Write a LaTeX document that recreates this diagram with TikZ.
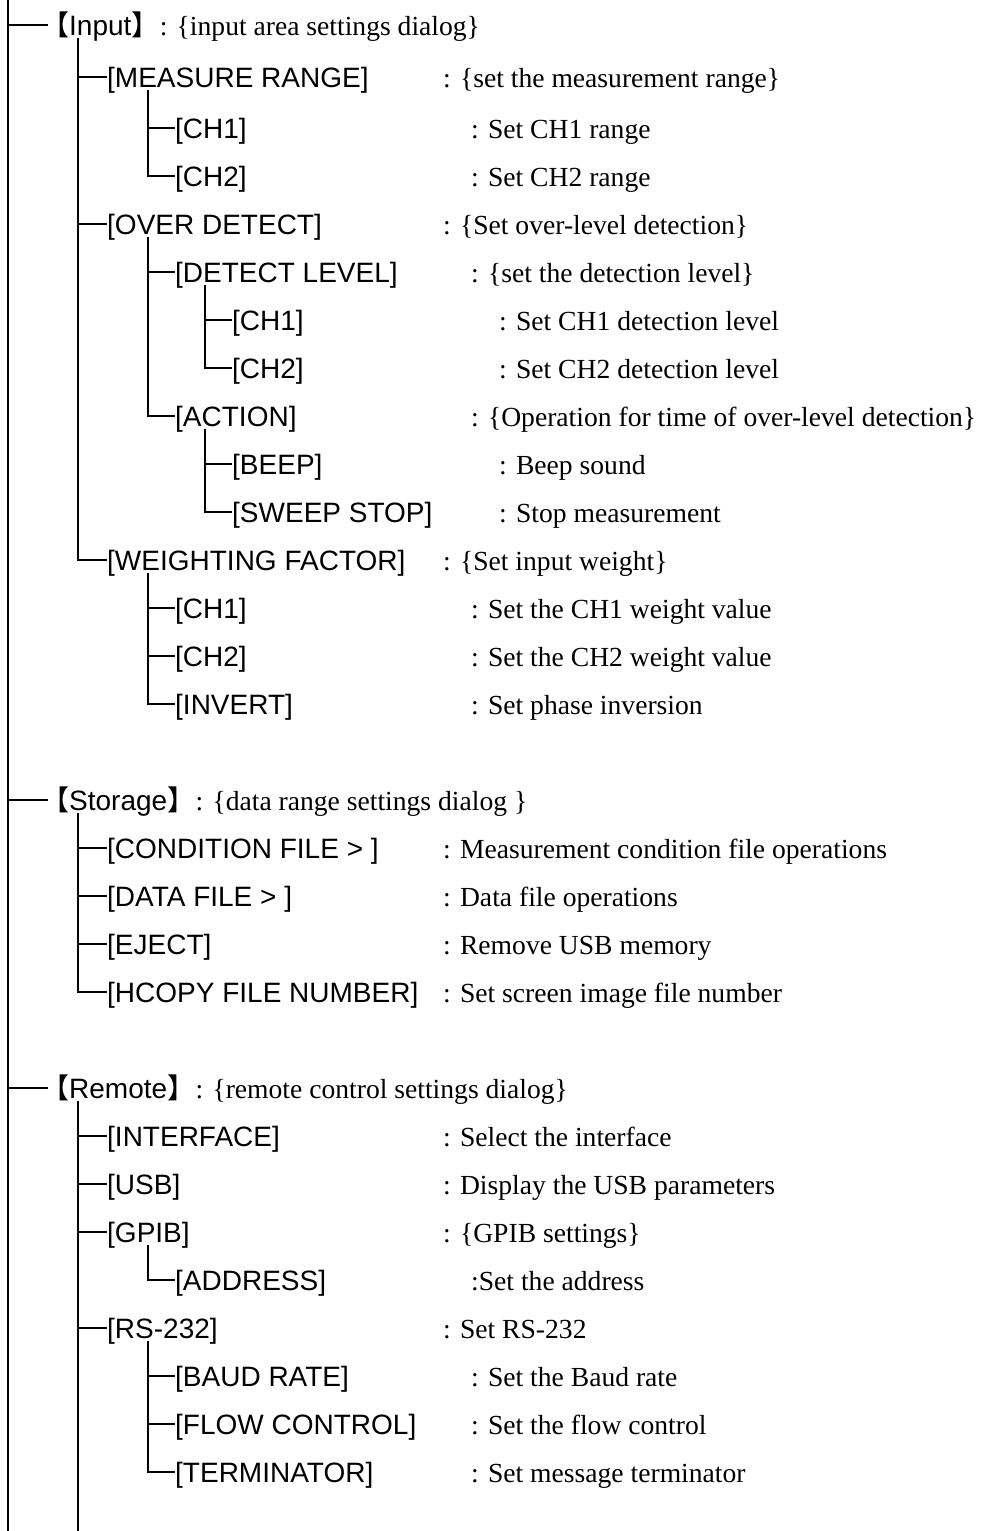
\documentclass[tikz,border=0pt]{standalone}
\usepackage{fontspec}
\setmainfont{Liberation Serif}
\setsansfont{Liberation Sans}
\newfontfamily\cjkfont{Noto Sans CJK SC}
\usetikzlibrary{positioning,calc}

\tikzset{
  key/.style={font=\sffamily\fontsize{28}{30}\selectfont, anchor=west, inner sep=0pt, text height=22pt, text depth=2pt},
  desc/.style={font=\rmfamily\fontsize{27.6}{30}\selectfont, anchor=west, inner sep=0pt, text height=22pt, text depth=2pt},
  branch/.style={line width=1.8pt},
}
\newcommand{\lbrk}{\kern-7pt{\cjkfont 【}}
\newcommand{\rbrk}{{\cjkfont 】}}

\begin{document}
\begin{tikzpicture}[x=1pt,y=-1pt]
  \useasboundingbox (0,0) rectangle (980,1531);
  % Main trunk
  \coordinate (top) at (8,0);
  \coordinate (bot) at (8,1531);
  \draw[branch] (top) -- (bot);

  % Input
  \node[key] (in) at (48,25) {\lbrk Input\rbrk};
  \node[desc, right=0pt of in] (in-d) {: \{input area settings dialog\}};
  \node[key] (mr) at (107,77) {[MEASURE RANGE]};
  \node[desc] (mr-d) at (443,77) {: \{set the measurement range\}};
  \node[key] (mr1) at (175,128) {[CH1]};
  \node[desc] (mr1-d) at (471,128) {: Set CH1 range};
  \node[key] (mr2) at (175,176) {[CH2]};
  \node[desc] (mr2-d) at (471,176) {: Set CH2 range};
  \node[key] (od) at (107,224) {[OVER DETECT]};
  \node[desc] (od-d) at (443,224) {: \{Set over-level detection\}};
  \node[key] (dl) at (175,272) {[DETECT LEVEL]};
  \node[desc] (dl-d) at (471,272) {: \{set the detection level\}};
  \node[key] (dl1) at (232,320) {[CH1]};
  \node[desc] (dl1-d) at (499,320) {: Set CH1 detection level};
  \node[key] (dl2) at (232,368) {[CH2]};
  \node[desc] (dl2-d) at (499,368) {: Set CH2 detection level};
  \node[key] (act) at (175,416) {[ACTION]};
  \node[desc] (act-d) at (471,416) {: \{Operation for time of over-level detection\}};
  \node[key] (beep) at (232,464) {[BEEP]};
  \node[desc] (beep-d) at (499,464) {: Beep sound};
  \node[key] (swp) at (232,512) {[SWEEP STOP]};
  \node[desc] (swp-d) at (499,512) {: Stop measurement};
  \node[key] (wf) at (107,560) {[WEIGHTING FACTOR]};
  \node[desc] (wf-d) at (443,560) {: \{Set input weight\}};
  \node[key] (wf1) at (175,608) {[CH1]};
  \node[desc] (wf1-d) at (471,608) {: Set the CH1 weight value};
  \node[key] (wf2) at (175,656) {[CH2]};
  \node[desc] (wf2-d) at (471,656) {: Set the CH2 weight value};
  \node[key] (inv) at (175,704) {[INVERT]};
  \node[desc] (inv-d) at (471,704) {: Set phase inversion};

  % Storage
  \node[key] (st) at (48,800) {\lbrk Storage\rbrk};
  \node[desc, right=0pt of st] (st-d) {: \{data range settings dialog \}};
  \node[key] (cf) at (107,848) {[CONDITION FILE > ]};
  \node[desc] (cf-d) at (443,848) {: Measurement condition file operations};
  \node[key] (df) at (107,896) {[DATA FILE > ]};
  \node[desc] (df-d) at (443,896) {: Data file operations};
  \node[key] (ej) at (107,944) {[EJECT]};
  \node[desc] (ej-d) at (443,944) {: Remove USB memory};
  \node[key] (hc) at (107,992) {[HCOPY FILE NUMBER]};
  \node[desc] (hc-d) at (443,992) {: Set screen image file number};

  % Remote
  \node[key] (rm) at (48,1088) {\lbrk Remote\rbrk};
  \node[desc, right=0pt of rm] (rm-d) {: \{remote control settings dialog\}};
  \node[key] (if) at (107,1136) {[INTERFACE]};
  \node[desc] (if-d) at (443,1136) {: Select the interface};
  \node[key] (usb) at (107,1184) {[USB]};
  \node[desc] (usb-d) at (443,1184) {: Display the USB parameters};
  \node[key] (gp) at (107,1232) {[GPIB]};
  \node[desc] (gp-d) at (443,1232) {: \{GPIB settings\}};
  \node[key] (adr) at (175,1280) {[ADDRESS]};
  \node[desc] (adr-d) at (471,1280) {:Set the address};
  \node[key] (rs) at (107,1328) {[RS-232]};
  \node[desc] (rs-d) at (443,1328) {: Set RS-232};
  \node[key] (baud) at (175,1376) {[BAUD RATE]};
  \node[desc] (baud-d) at (471,1376) {: Set the Baud rate};
  \node[key] (flow) at (175,1424) {[FLOW CONTROL]};
  \node[desc] (flow-d) at (471,1424) {: Set the flow control};
  \node[key] (term) at (175,1472) {[TERMINATOR]};
  \node[desc] (term-d) at (471,1472) {: Set message terminator};
  \coordinate (rmend) at (78,1531);

  % Branches from main trunk
  \foreach \h in {in,st,rm}
    \draw[branch] (top |- \h.west) -- (\h.west);
  % Second level
  \foreach \c in {mr,od,wf}
    \draw[branch] ([xshift=30pt,yshift=-3pt]in.base west) |- (\c.west);
  \foreach \c in {cf,df,ej,hc}
    \draw[branch] ([xshift=30pt,yshift=-3pt]st.base west) |- (\c.west);
  \foreach \c in {if,usb,gp,rs}
    \draw[branch] ([xshift=30pt,yshift=-3pt]rm.base west) |- (\c.west);
  \draw[branch] ([xshift=30pt,yshift=-3pt]rm.base west) -- (rmend);
  % Third level
  \foreach \c in {mr1,mr2}
    \draw[branch] ([xshift=41pt,yshift=-3pt]mr.base west) |- (\c.west);
  \foreach \c in {dl,act}
    \draw[branch] ([xshift=41pt,yshift=-3pt]od.base west) |- (\c.west);
  \foreach \c in {wf1,wf2,inv}
    \draw[branch] ([xshift=41pt,yshift=-3pt]wf.base west) |- (\c.west);
  \draw[branch] ([xshift=41pt,yshift=-3pt]gp.base west) |- (adr.west);
  \foreach \c in {baud,flow,term}
    \draw[branch] ([xshift=41pt,yshift=-3pt]rs.base west) |- (\c.west);
  % Fourth level
  \foreach \c in {dl1,dl2}
    \draw[branch] ([xshift=30pt,yshift=-3pt]dl.base west) |- (\c.west);
  \foreach \c in {beep,swp}
    \draw[branch] ([xshift=30pt,yshift=-3pt]act.base west) |- (\c.west);
\end{tikzpicture}
\end{document}
